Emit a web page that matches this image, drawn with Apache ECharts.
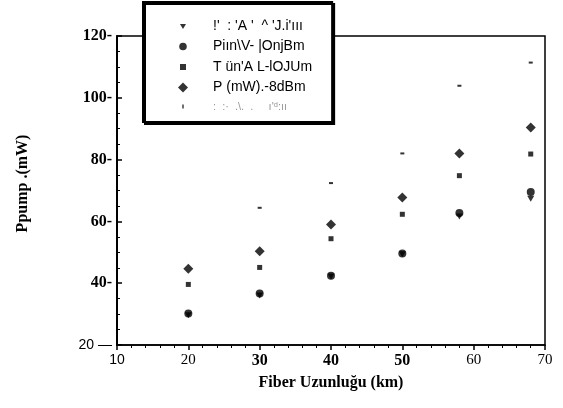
<!DOCTYPE html>
<html><head><meta charset="utf-8">
<script src="https://cdn.jsdelivr.net/npm/echarts@6/dist/echarts.min.js"></script>
<style>html,body{margin:0;padding:0;background:#fff}#c{width:563px;height:408px}</style>
</head><body><div id="c"></div>
<script>
const fiberKm = [20, 30, 40, 50, 58, 68];
const names = ["!'  : 'A '  ^ 'J.i'ııı", "Piın\\V- |OnjBm", "T ün'A L-lOJUm", "P (mW).-8dBm", ":  :·  .\\.  .     ı'ᵈ:ıı"];
const sTri = [29.6, 36.0, 42.2, 49.4, 61.6, 67.3];
const sCircle = [30.2, 36.7, 42.4, 49.6, 62.7, 69.5];
const sSquare = [39.6, 45.1, 54.4, 62.3, 74.8, 81.8];
const sDiamond = [44.7, 50.3, 59.0, 67.7, 82.0, 90.4];
const sDot = [null, 64.4, 72.4, 82.0, 103.9, 111.4];

const pair = arr => fiberKm.map((x, i) => [x, arr[i]]);
const serif = 'Liberation Serif';
const sans = 'Liberation Sans';
const triDown = 'path://M0,0L10,0L5,8Z';
const triIcon = 'path://M0,0h0.01v0.01h-0.01zM2,3L8,3L5,8Z M10,10h0.01v0.01h-0.01z';
const circIcon = 'path://M0,0h0.01v0.01h-0.01zM1.2,5A3.8,3.8 0 1 0 8.8,5A3.8,3.8 0 1 0 1.2,5Z M10,10h0.01v0.01h-0.01z';
const sqIcon = 'path://M0,0h0.01v0.01h-0.01zM2,2h6v6h-6z M10,10h0.01v0.01h-0.01z';
const diaIcon = 'path://M5,0.5L9.5,5L5,9.5L0.5,5Z';
const dotIcon = 'path://M0,0h0.01v0.01h-0.01zM4.3,3h1.4v4h-1.4z M10,10h0.01v0.01h-0.01z';

const chart = echarts.init(document.getElementById('c'), null, {renderer: 'canvas'});
chart.setOption({
  animation: false,
  backgroundColor: '#fff',
  grid: {left: 117, right: 18, top: 36, bottom: 63, show: true, borderColor: '#000', borderWidth: 1.5},
  legend: {
    orient: 'vertical', left: 143, top: 2,
    padding: [17, 20, 10, 35],
    itemGap: 6.5, itemWidth: 10, itemHeight: 10,
    backgroundColor: '#fff', borderColor: '#000', borderWidth: 2,
    shadowColor: '#000', shadowOffsetX: 2, shadowOffsetY: 2, shadowBlur: 0,
    data: [
      {name: names[0], icon: triIcon},
      {name: names[1], icon: circIcon},
      {name: names[2], icon: sqIcon},
      {name: names[3], icon: diaIcon},
      {name: names[4], icon: dotIcon}
    ],
    formatter: n => n === names[4] ? '{g|' + n + '}' : '{t|' + n + '}',
    textStyle: {
      rich: {
        t: {fontFamily: sans, fontSize: 14, color: '#000', padding: [0, 0, 0, 20]},
        g: {fontFamily: sans, fontSize: 11, color: '#9a9a9a', padding: [0, 0, 0, 20]}
      }
    }
  },
  xAxis: {
    type: 'value', min: 10, max: 70, interval: 10,
    name: 'Fiber Uzunluğu (km)', nameLocation: 'middle', nameGap: 30,
    nameTextStyle: {fontFamily: serif, fontWeight: 'bold', fontSize: 16, color: '#000'},
    axisLine: {lineStyle: {color: '#000', width: 1.5}},
    axisTick: {inside: false, length: 5, lineStyle: {color: '#000', width: 1.5}},
    minorTick: {show: true, splitNumber: 5, length: 3, lineStyle: {color: '#000'}},
    splitLine: {show: false},
    axisLabel: {
      margin: 8,
      formatter: v => {
        if (v === 10) return '{s|10}';
        if (v >= 30 && v <= 50) return '{b|' + v + '}';
        return '{r|' + v + '}';
      },
      rich: {
        s: {fontFamily: sans, fontSize: 14, color: '#000'},
        b: {fontFamily: serif, fontWeight: 'bold', fontSize: 16, color: '#000'},
        r: {fontFamily: serif, fontSize: 15, color: '#000'}
      }
    }
  },
  yAxis: {
    type: 'value', min: 20, max: 120, interval: 20,
    name: 'Ppump .(mW)', nameLocation: 'middle', nameGap: 86, nameRotate: 90,
    nameTextStyle: {fontFamily: serif, fontWeight: 'bold', fontSize: 16, color: '#000', padding: [0, 0, 0, 14]},
    axisLine: {lineStyle: {color: '#000', width: 2}},
    axisTick: {inside: true, length: 5, lineStyle: {color: '#000', width: 1.5}},
    minorTick: {show: true, splitNumber: 4, length: 3, lineStyle: {color: '#000'}},
    splitLine: {show: false},
    axisLabel: {
      margin: 5,
      formatter: v => v === 20 ? '{s|20 —}' : '{b|' + v + '-}',
      rich: {
        s: {fontFamily: sans, fontSize: 14, color: '#000'},
        b: {fontFamily: serif, fontWeight: 'bold', fontSize: 16, color: '#000'}
      }
    }
  },
  series: [
    {name: names[0], type: 'scatter', data: pair(sTri), symbol: triDown, symbolSize: [7, 6], itemStyle: {color: '#000'}},
    {name: names[1], type: 'scatter', data: pair(sCircle), symbol: 'circle', symbolSize: 8, itemStyle: {color: '#000'}},
    {name: names[2], type: 'scatter', data: pair(sSquare), symbol: 'rect', symbolSize: 5, itemStyle: {color: '#000'}},
    {name: names[3], type: 'scatter', data: pair(sDiamond), symbol: 'diamond', symbolSize: 10, itemStyle: {color: '#000'}},
    {name: names[4], type: 'scatter', data: pair(sDot), symbol: 'rect', symbolSize: [4, 2], itemStyle: {color: '#000'}}
  ]
});
</script></body></html>
